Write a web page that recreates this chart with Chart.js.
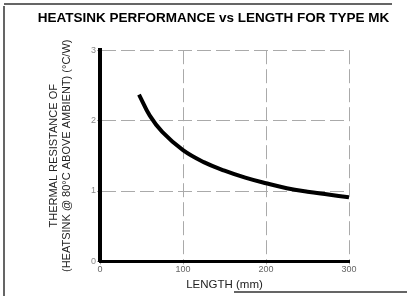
<!DOCTYPE html>
<html>
<head>
<meta charset="utf-8">
<script src="https://cdn.jsdelivr.net/npm/chart.js@4"></script>
<style>
  html, body { margin: 0; padding: 0; background: #fff; }
  #wrap { width: 407px; height: 296px; position: relative; }
</style>
</head>
<body>
<div id="wrap"><canvas id="chart"></canvas></div>
<script>
// data
const lengths = [47, 60, 75, 100, 125, 150, 175, 200, 225, 250, 275, 300];
const resistance = [2.37, 2.07, 1.84, 1.58, 1.41, 1.29, 1.19, 1.11, 1.04, 0.99, 0.95, 0.91];
const xTicks = [0, 100, 200, 300];
const yTicks = [0, 1, 2, 3];

const titleText = "HEATSINK PERFORMANCE vs LENGTH FOR TYPE MK";
const yTitle = ["THERMAL RESISTANCE OF", "(HEATSINK @ 80°C ABOVE AMBIENT) (°C/W)"];
const xTitle = "LENGTH (mm)";

// scanned page edge lines
const frameLines = {
  id: "frameLines",
  beforeDraw(chart) {
    const c = chart.ctx;
    c.save();
    c.strokeStyle = "#333";
    c.lineWidth = 1.5;
    c.beginPath();
    c.moveTo(4, 6); c.lineTo(4, 296);
    c.moveTo(4, 4); c.lineTo(392, 4);
    c.moveTo(234, 292); c.lineTo(407, 292);
    c.stroke();
    c.restore();
  }
};

const ctx = document.getElementById("chart").getContext("2d");
const chart = new Chart(ctx, {
  type: "line",
  data: {
    datasets: [{
      data: lengths.map((x, i) => ({ x: x, y: resistance[i] })),
      borderColor: "#000",
      borderWidth: 4,
      pointRadius: 0,
      tension: 0.4,
      fill: false
    }]
  },
  options: {
    responsive: true,
    maintainAspectRatio: false,
    animation: false,
    layout: { padding: { left: 20, right: 0, top: 0, bottom: 4 } },
    plugins: {
      legend: { display: false },
      tooltip: { enabled: false },
      title: {
        display: true,
        text: titleText,
        color: "#000",
        font: { family: "Liberation Sans", size: 13.5, weight: "bold" },
        padding: { top: 10, bottom: 24 }
      }
    },
    scales: {
      x: {
        type: "linear",
        min: 0, max: 300,
        afterBuildTicks: s => { s.ticks = xTicks.map(v => ({ value: v })); },
        ticks: { color: "#666", font: { family: "Liberation Sans", size: 9 }, padding: 0, maxRotation: 0 },
        grid: { color: "#aaa", lineWidth: 1, tickLength: 3 },
        border: { display: true, color: "#000", width: 3, dash: [14, 5] },
        title: { display: true, text: xTitle, color: "#222", font: { family: "Liberation Sans", size: 11.5 }, padding: { top: 3, bottom: 0 } }
      },
      y: {
        min: 0, max: 3,
        afterBuildTicks: s => { s.ticks = yTicks.map(v => ({ value: v })); },
        afterFit: s => { s.width = 80; },
        ticks: { color: "#888", font: { family: "Liberation Sans", size: 9 }, padding: 1 },
        grid: { color: "#aaa", lineWidth: 1, tickLength: 3 },
        border: { display: true, color: "#000", width: 4, dash: [14, 5] },
        title: { display: true, text: yTitle, color: "#222", font: { family: "Liberation Sans", size: 11, lineHeight: 1.15 }, padding: { top: 28, bottom: 0 } }
      },
      // empty right axis keeps the plot area clear of the right margin
      yRight: {
        position: "right",
        min: 0, max: 3,
        afterFit: s => { s.width = 58; },
        ticks: { display: false },
        grid: { display: false, drawTicks: false },
        border: { display: false }
      }
    }
  },
  plugins: [frameLines]
});
</script>
</body>
</html>
